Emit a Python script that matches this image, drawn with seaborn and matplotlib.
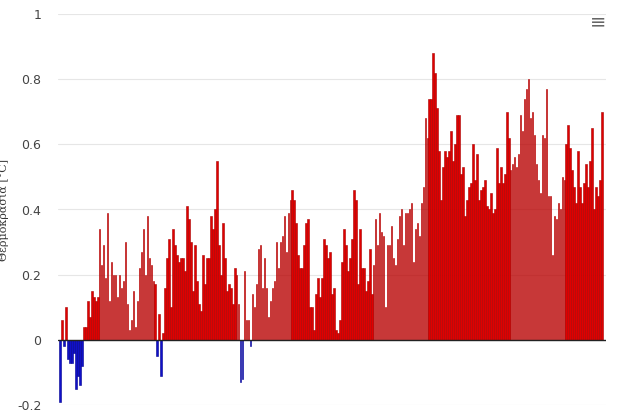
import numpy as np
import pandas as pd
import matplotlib
matplotlib.use("Agg")
import matplotlib.pyplot as plt
import seaborn as sns

seg1 = [-0.19, 0.06, -0.02, 0.10, -0.06, -0.07, -0.07, -0.04, -0.15, -0.11, -0.14, -0.08,
        0.04, 0.04, 0.12, 0.07, 0.15, 0.13, 0.12, 0.13, 0.34, 0.23, 0.29, 0.19, 0.39, 0.12,
        0.24, 0.20, 0.20, 0.13, 0.20, 0.16, 0.18, 0.30, 0.11, 0.03, 0.06, 0.15, 0.04, 0.12,
        0.22, 0.27, 0.34, 0.20, 0.38, 0.25, 0.23, 0.18, 0.17, -0.05, 0.08, -0.11, 0.02, 0.16,
        0.25, 0.31, 0.10, 0.34, 0.29, 0.26, 0.24, 0.25, 0.25, 0.21, 0.41]
seg2 = [0.37, 0.30, 0.15, 0.29, 0.18, 0.11, 0.09, 0.26, 0.17, 0.25, 0.25, 0.38, 0.34, 0.40,
        0.55, 0.29, 0.20, 0.36, 0.25, 0.15, 0.17, 0.16, 0.11, 0.22, 0.20, 0.11, -0.13, -0.12,
        0.21, 0.06, 0.06, -0.02, 0.14, 0.10, 0.17, 0.28, 0.29, 0.16, 0.25, 0.16, 0.07, 0.12,
        0.16, 0.18, 0.30, 0.22, 0.30, 0.32, 0.38, 0.27, 0.39, 0.43, 0.46, 0.43, 0.36, 0.26,
        0.22, 0.22, 0.29, 0.36, 0.37, 0.10, 0.10, 0.03, 0.14, 0.19, 0.13, 0.19, 0.31]
seg3 = [0.29, 0.25, 0.27, 0.14, 0.16, 0.03, 0.02, 0.06, 0.24, 0.34, 0.29, 0.21, 0.25, 0.31,
        0.46, 0.43, 0.17, 0.34, 0.22, 0.22, 0.15, 0.18, 0.28, 0.14, 0.23, 0.37, 0.29, 0.39,
        0.33, 0.32, 0.10, 0.29, 0.29, 0.35, 0.25, 0.23, 0.31, 0.38, 0.40, 0.29, 0.39, 0.39,
        0.40, 0.42, 0.24, 0.34, 0.36, 0.32, 0.42, 0.47, 0.68, 0.62, 0.74, 0.74, 0.88, 0.82,
        0.71, 0.58, 0.43, 0.53, 0.58, 0.56, 0.58, 0.64, 0.55, 0.60, 0.69, 0.69, 0.51]
seg4 = [0.53, 0.38, 0.43, 0.47, 0.48, 0.60, 0.49, 0.57, 0.43, 0.46, 0.47, 0.49, 0.41, 0.40,
        0.45, 0.39, 0.40, 0.59, 0.48, 0.53, 0.48, 0.51, 0.70, 0.62, 0.52, 0.54, 0.56, 0.53,
        0.57, 0.69, 0.64, 0.74, 0.77, 0.80, 0.68, 0.70, 0.63, 0.54, 0.49, 0.45, 0.63, 0.62,
        0.77, 0.44, 0.44, 0.26, 0.38, 0.37, 0.42, 0.40, 0.50, 0.49, 0.60, 0.66, 0.59, 0.52,
        0.47, 0.42, 0.58, 0.47, 0.42, 0.48, 0.54, 0.47, 0.55, 0.65, 0.40, 0.47, 0.44, 0.49, 0.70]
values = seg1 + seg2 + seg3 + seg4
y_ticks = [-0.2, 0, 0.2, 0.4, 0.6, 0.8, 1]
y_labels = ["-0.2", "0", "0.2", "0.4", "0.6", "0.8", "1"]

df = pd.DataFrame({"i": np.arange(len(values)), "v": values})
df["sign"] = np.where(df["v"] >= 0, "pos", "neg")

sns.set_style("white")
fig = plt.figure(figsize=(6.4, 4.19), dpi=100)
ax = fig.add_axes([58/640, 14/419, 548/640, 391/419])
for t in y_ticks:
    ax.axhline(t, color="#e6e6e6", lw=0.8, zorder=0)
sns.barplot(data=df, x="i", y="v", hue="sign", palette={"pos": "#e00000", "neg": "#1010c8"},
            dodge=False, legend=False, width=0.8, saturation=1, ax=ax, zorder=2)
for p in ax.patches:
    fc = p.get_facecolor()
    p.set_edgecolor("#a80000" if fc[0] > 0.5 else "#000090")
    p.set_linewidth(0.4)
ax.axhline(0, color="#222222", lw=1, zorder=3)
ax.set_ylim(-0.2, 1)
ax.set_xlim(-1, len(values) + 1)
ax.set_yticks(y_ticks)
ax.set_yticklabels(y_labels, fontsize=9, color="#444444")
ax.set_xticks([])
ax.set_xlabel("")
ax.set_ylabel("Θερμοκρασία [°C]", fontsize=8, family="DejaVu Serif", color="#333333", labelpad=6)
ax.tick_params(axis="y", length=0, pad=12)
for s in ax.spines.values():
    s.set_visible(False)
fig.text(598/640, 1 - 22/419, "≡", fontsize=14, color="#666666", ha="center", va="center")
fig.savefig("out.png", dpi=100, facecolor="white")
